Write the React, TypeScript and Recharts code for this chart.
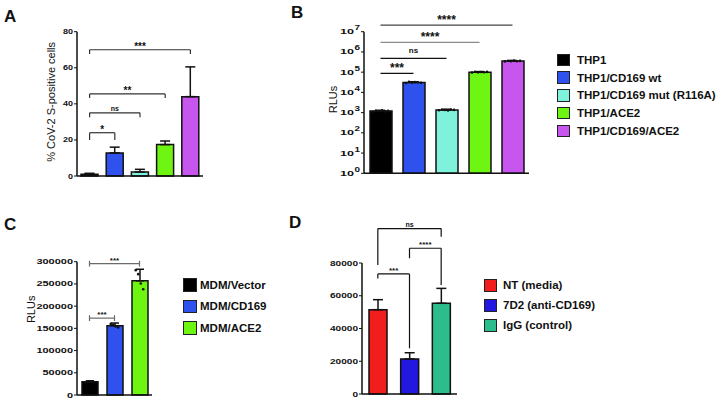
import React from "react"
import { BarChart, ComposedChart, Bar, Scatter, XAxis, YAxis, ErrorBar, Cell, ReferenceLine, Legend } from "recharts"

const FONT = '"Liberation Sans", Arial, Helvetica, sans-serif'
const INK = "#111"

// ---- panel A / B (THP1 lines) ----
const thpGroups = ["THP1", "THP1/CD169 wt", "THP1/CD169 mut (R116A)", "THP1/ACE2", "THP1/CD169/ACE2"]
const thpColors = ["#000000", "#2f52ee", "#7ff2dc", "#6ef512", "#c656ee"]

const pctPositive = [1, 12.8, 2.2, 17.4, 44]
const pctPositiveErr = [0.5, 3.2, 1.5, 2, 16.5]
const pctTicks = [0, 20, 40, 60, 80]

const thpRlu = [1200, 31000, 1350, 100000, 355000]
const thpRluErr = [120, 3000, 150, 9000, 30000]
const thpRluReps = [
  [1100, 1250, 1180, 1300, 1150, 1220],
  [29000, 33000, 30500, 32000, 31500, 30000],
  [1300, 1400, 1350, 1280, 1420, 1360],
  [95000, 104000, 98000, 102000, 99000, 103000],
  [340000, 365000, 350000, 370000, 345000, 360000],
]
const logTicks = [1, 10, 100, 1000, 10000, 100000, 1000000, 10000000]

// ---- panel C (MDM) ----
const mdmGroups = ["MDM/Vector", "MDM/CD169", "MDM/ACE2"]
const mdmColors = ["#000000", "#2f52ee", "#6ef512"]
const mdmRlu = [30000, 156000, 257000]
const mdmRluErr = [2000, 6000, 26000]
const mdmRluReps = [
  [29000, 31000, 30500, 29500],
  [160000, 158000, 154000, 152000],
  [281000, 272000, 251000, 238000],
]
const mdmTicks = [0, 50000, 100000, 150000, 200000, 250000, 300000]

// ---- panel D (antibody block) ----
const abGroups = ["NT (media)", "7D2 (anti-CD169)", "IgG (control)"]
const abColors = ["#f21d1d", "#2318e0", "#2bbd8c"]
const abRlu = [51500, 21400, 55400]
const abRluErr = [6100, 3800, 9100]
const abTicks = [0, 20000, 40000, 60000, 80000]

// significance brackets (y in data units, optional end drops)
type Bracket = { from: number; to: number; y: number; left?: [number, number]; right?: [number, number]; label: string }

const bracketsA: Bracket[] = [
  { from: 0, to: 1, y: 24, left: [24, 20], right: [24, 20], label: "*" },
  { from: 0, to: 2, y: 35, left: [35, 32.6], right: [35, 32.6], label: "ns" },
  { from: 0, to: 3, y: 45.5, left: [45.5, 43.2], right: [45.5, 43.2], label: "**" },
  { from: 0, to: 4, y: 70, left: [70, 67.6], right: [70, 67.6], label: "***" },
]
const bracketsB: Bracket[] = [
  { from: 0, to: 1, y: 88000, label: "***" },
  { from: 0, to: 2, y: 480000, label: "ns" },
  { from: 0, to: 3, y: 3000000, label: "****" },
  { from: 0, to: 4, y: 21000000, label: "****" },
]
const bracketsC: Bracket[] = [
  { from: 0, to: 2, y: 295500, left: [289000, 302000], right: [289000, 302000], label: "***" },
  { from: 0, to: 1, y: 173000, left: [166500, 179500], right: [166500, 179500], label: "***" },
]
const bracketsD: Bracket[] = [
  { from: 0, to: 2, y: 101000, left: [101000, 78800], right: [101000, 96000], label: "ns" },
  { from: 1, to: 2, y: 89000, left: [89000, 82900], right: [89000, 66600], label: "****" },
  { from: 0, to: 1, y: 73300, left: [73300, 70600], right: [73300, 27900], label: "***" },
]

const rows = (groups: string[], values: number[], errs: number[]) =>
  groups.map((name, i) => ({ name, value: values[i], err: [0, errs[i]] }))

const repRows = (groups: string[], reps: number[][]) =>
  reps.flatMap((vals, g) => vals.map((rep, k) => ({ name: groups[g], rep, k, n: vals.length })))

const dataA = rows(thpGroups, pctPositive, pctPositiveErr)
const dataB = rows(thpGroups, thpRlu, thpRluErr)
const dataC = rows(mdmGroups, mdmRlu, mdmRluErr)
const dataD = rows(abGroups, abRlu, abRluErr)
const dotsB = repRows(thpGroups, thpRluReps)
const dotsC = repRows(mdmGroups, mdmRluReps)

function bracketLines(
  list: Bracket[],
  groups: string[],
  opts: { color?: string | ((i: number) => string); size: number; nsSize: number; offset: number; nsOffset: number }
) {
  return list.flatMap((b, i) => {
    const color = typeof opts.color === "function" ? opts.color(i) : opts.color || INK
    const a = groups[b.from]
    const z = groups[b.to]
    const isNs = b.label === "ns"
    const out = [
      <ReferenceLine
        key={`h${i}`}
        segment={[{ x: a, y: b.y }, { x: z, y: b.y }]}
        stroke={color}
        strokeWidth={1.2}
        ifOverflow="visible"
        label={{
          value: b.label,
          position: "top",
          offset: isNs ? opts.nsOffset : opts.offset,
          fontSize: isNs ? opts.nsSize : opts.size,
          fontWeight: 700,
          fill: INK,
          fontFamily: FONT,
        }}
      />,
    ]
    if (b.left)
      out.push(<ReferenceLine key={`l${i}`} segment={[{ x: a, y: b.left[0] }, { x: a, y: b.left[1] }]} stroke={color} strokeWidth={1.2} ifOverflow="visible" />)
    if (b.right)
      out.push(<ReferenceLine key={`r${i}`} segment={[{ x: z, y: b.right[0] }, { x: z, y: b.right[1] }]} stroke={color} strokeWidth={1.2} ifOverflow="visible" />)
    return out
  })
}

const axisTitle = (value: string, dx: number, dy: number, size: number) => ({
  value,
  content: (p: any) => {
    const vb = p.viewBox
    const cx = vb.x + dx
    const cy = vb.y + vb.height / 2 + dy
    return (
      <text x={cx} y={cy} transform={`rotate(-90 ${cx} ${cy})`} textAnchor="middle" dominantBaseline="central" fontSize={size} fontFamily={FONT} fill={INK}>
        {value}
      </text>
    )
  },
})

const legendList = (groups: string[], colors: string[], box: number, gap: number, row: number, size: number) => () => (
  <div style={{ fontFamily: FONT }}>
    {groups.map((g, i) => (
      <div key={g} style={{ display: "flex", alignItems: "center", height: row }}>
        <span style={{ width: box, height: box, background: colors[i], border: "1px solid #222", boxSizing: "border-box", marginRight: gap, flex: "none" }} />
        <span style={{ fontSize: size, fontWeight: 700, color: INK, whiteSpace: "nowrap" }}>{g}</span>
      </div>
    ))}
  </div>
)

// tick labels in the figure are short and wide
const WideTick = ({ x, y, payload, charW }: any) => {
  const s = String(payload.value)
  return (
    <text x={x} y={y} textAnchor="end" dominantBaseline="central" fontSize={7.5} fontWeight={700} textLength={s.length * charW} lengthAdjust="spacingAndGlyphs" fill={INK} fontFamily={FONT}>
      {s}
    </text>
  )
}

const LogTick = ({ x, y, payload }: any) => (
  <g fill={INK} fontFamily={FONT} fontSize={7.5} fontWeight={700}>
    <text x={x - 6} y={y} textAnchor="end" dominantBaseline="central" textLength={14} lengthAdjust="spacingAndGlyphs">
      10
    </text>
    <text x={x} y={y - 4} textAnchor="end" dominantBaseline="central" textLength={5.5} lengthAdjust="spacingAndGlyphs">
      {Math.round(Math.log10(payload.value))}
    </text>
  </g>
)

const RepDot = (spread: number) => (p: any) =>
  <circle cx={p.cx + (p.payload.k - (p.payload.n - 1) / 2) * spread} cy={p.cy} r={1.3} fill={INK} />

const axisLine = { stroke: INK, strokeWidth: 1.5 }
const tickLine = { stroke: INK, strokeWidth: 1 }

export default function App() {
  return (
    <div style={{ position: "absolute", left: 0, top: 0, width: 720, height: 404, background: "#fff", overflow: "hidden" }}>
      {/* A */}
      <div style={{ position: "absolute", left: 0, top: 0 }}>
        <BarChart width={215} height={200} data={dataA} margin={{ top: 31.7, right: 12, bottom: 16, left: 37 }}>
          <XAxis dataKey="name" tick={false} tickSize={3} height={8} axisLine={axisLine} tickLine={tickLine} interval={0} />
          <YAxis domain={[0, 80]} ticks={pctTicks} interval={0} width={40} tickSize={3} tickMargin={1} axisLine={axisLine} tickLine={tickLine} tick={<WideTick charW={5} />} label={axisTitle("% CoV-2 S-positive cells", 14, -2, 11)} />
          <Bar dataKey="value" barSize={17} stroke={INK} strokeWidth={1.5} isAnimationActive={false}>
            {dataA.map((d, i) => (
              <Cell key={d.name} fill={thpColors[i]} />
            ))}
            <ErrorBar dataKey="err" width={5} stroke={INK} strokeWidth={1.5} />
          </Bar>
          {bracketLines(bracketsA, thpGroups, { color: "#333", size: 10, nsSize: 7, offset: 0, nsOffset: 2 })}
        </BarChart>
      </div>

      {/* B */}
      <div style={{ position: "absolute", left: 300, top: 0 }}>
        <ComposedChart width={420} height={200} data={dataB} margin={{ top: 31.7, right: 191, bottom: 18.7, left: 24 }}>
          <XAxis dataKey="name" allowDuplicatedCategory={false} tick={false} tickSize={3} height={8} axisLine={axisLine} tickLine={tickLine} interval={0} />
          <YAxis scale="log" domain={[1, 10000000]} ticks={logTicks} interval={0} allowDataOverflow width={40} tickSize={3} tickMargin={1} axisLine={axisLine} tickLine={tickLine} tick={<LogTick />} label={axisTitle("RLUs", 9, -3, 11)} />
          <Bar dataKey="value" barSize={22} stroke={INK} strokeWidth={1.5} isAnimationActive={false}>
            {dataB.map((d, i) => (
              <Cell key={d.name} fill={thpColors[i]} />
            ))}
            <ErrorBar dataKey="err" width={4} stroke={INK} strokeWidth={1.2} />
          </Bar>
          <Scatter data={dotsB} dataKey="rep" isAnimationActive={false} shape={RepDot(3)} />
          {bracketLines(bracketsB, thpGroups, { color: (i) => (i === 2 ? "#8a8a8a" : i === 3 ? "#444" : INK), size: 12, nsSize: 8, offset: 1, nsOffset: 5 })}
          <Legend layout="vertical" align="center" verticalAlign="middle" wrapperStyle={{ left: 257, top: 51 }} content={legendList(thpGroups, thpColors, 12.5, 7.5, 17.75, 11.5)} />
        </ComposedChart>
      </div>

      {/* C */}
      <div style={{ position: "absolute", left: 0, top: 200 }}>
        <ComposedChart width={300} height={204} data={dataC} margin={{ top: 61.7, right: 148, bottom: 3, left: 32 }}>
          <XAxis dataKey="name" allowDuplicatedCategory={false} tick={false} tickSize={3} height={6} axisLine={axisLine} tickLine={tickLine} interval={0} />
          <YAxis domain={[0, 300000]} ticks={mdmTicks} interval={0} width={45} tickSize={3} tickMargin={1} axisLine={axisLine} tickLine={tickLine} tick={<WideTick charW={6.1} />} label={axisTitle("RLUs", -0.5, -19, 11)} />
          <Bar dataKey="value" barSize={16} stroke={INK} strokeWidth={1.5} isAnimationActive={false}>
            {dataC.map((d, i) => (
              <Cell key={d.name} fill={mdmColors[i]} />
            ))}
            <ErrorBar dataKey="err" width={4} stroke={INK} strokeWidth={1.5} />
          </Bar>
          <Scatter data={dotsC} dataKey="rep" isAnimationActive={false} shape={RepDot(2.5)} />
          {bracketLines(bracketsC, mdmGroups, { color: "#6b6b6b", size: 8, nsSize: 7, offset: 1, nsOffset: 2 })}
          <Legend layout="vertical" align="center" verticalAlign="middle" wrapperStyle={{ left: 183, top: 74 }} content={legendList(mdmGroups, mdmColors, 13.5, 3.5, 21.5, 11.5)} />
        </ComposedChart>
      </div>

      {/* D */}
      <div style={{ position: "absolute", left: 300, top: 200 }}>
        <BarChart width={420} height={204} data={dataD} margin={{ top: 63, right: 263, bottom: 4, left: 17 }}>
          <XAxis dataKey="name" tick={false} tickSize={3} height={6} axisLine={axisLine} tickLine={tickLine} interval={0} />
          <YAxis domain={[0, 80000]} ticks={abTicks} interval={0} width={45} tickSize={3} tickMargin={1} axisLine={axisLine} tickLine={tickLine} tick={<WideTick charW={5.6} />} />
          <Bar dataKey="value" barSize={18} stroke={INK} strokeWidth={1.5} isAnimationActive={false}>
            {dataD.map((d, i) => (
              <Cell key={d.name} fill={abColors[i]} />
            ))}
            <ErrorBar dataKey="err" width={5} stroke={INK} strokeWidth={1.5} />
          </Bar>
          {bracketLines(bracketsD, abGroups, { size: 8, nsSize: 7, offset: 1, nsOffset: 2 })}
          <Legend layout="vertical" align="center" verticalAlign="middle" wrapperStyle={{ left: 184, top: 75 }} content={legendList(abGroups, abColors, 13, 6, 20, 11.5)} />
        </BarChart>
      </div>

      {/* panel letters */}
      <svg width={720} height={404} style={{ position: "absolute", left: 0, top: 0, pointerEvents: "none" }}>
        <g fontFamily={FONT} fontWeight={700} fontSize={17} fill={INK}>
          <text x={4} y={22}>A</text>
          <text x={291} y={18}>B</text>
          <text x={4} y={230}>C</text>
          <text x={289} y={228}>D</text>
        </g>
      </svg>
    </div>
  )
}
